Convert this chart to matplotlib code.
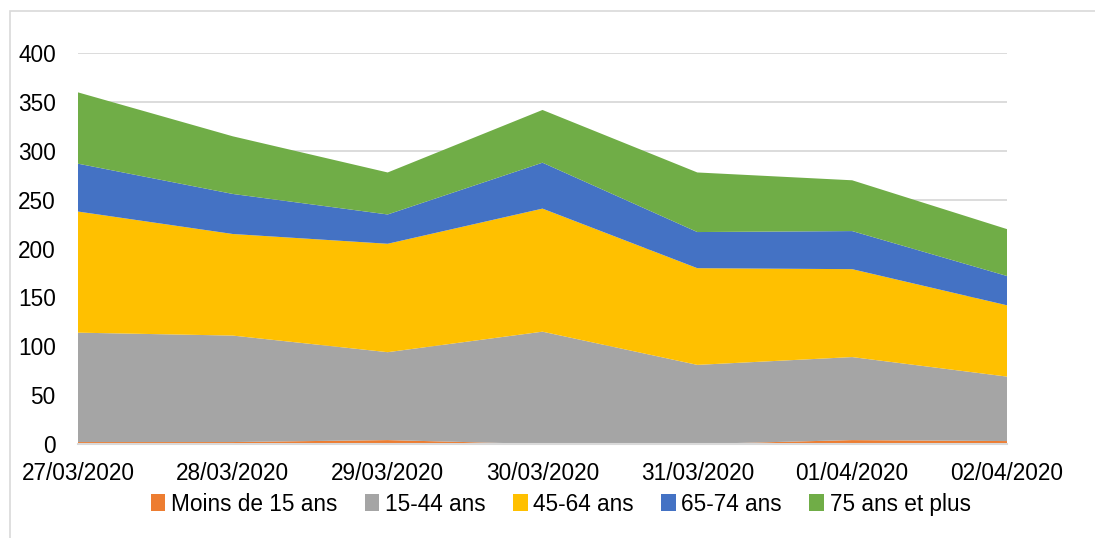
import matplotlib.pyplot as plt
from matplotlib.patches import Patch, Rectangle
from matplotlib import font_manager

# data (stacked area, daily counts)
dates = ['27/03/2020', '28/03/2020', '29/03/2020', '30/03/2020',
         '31/03/2020', '01/04/2020', '02/04/2020']
labels = ['Moins de 15 ans', '15-44 ans', '45-64 ans', '65-74 ans', '75 ans et plus']
moins_15 = [2, 2, 4, 0, 0, 4, 3]
age_15_44 = [112, 109, 90, 115, 81, 85, 66]
age_45_64 = [124, 104, 111, 126, 99, 90, 73]
age_65_74 = [49, 41, 30, 47, 37, 39, 30]
age_75_plus = [73, 59, 43, 54, 61, 52, 48]
colors = ['#ED7D31', '#A5A5A5', '#FFC000', '#4472C4', '#70AD47']

names = {f.name for f in font_manager.fontManager.ttflist}
if 'Liberation Sans Narrow' in names:
    plt.rcParams['font.family'] = ['Liberation Sans Narrow', 'DejaVu Sans']
    fs = 18.5
else:
    plt.rcParams['font.family'] = ['Liberation Sans', 'DejaVu Sans']
    fs = 16.3

fig = plt.figure(figsize=(10.95, 5.38), dpi=100)
ax = fig.add_axes([78 / 1095, 1 - 444 / 538, (1007 - 78) / 1095, (444 - 53.3) / 538])

# light frame around the chart
fig.patches.append(Rectangle((10 / 1095, -0.1), 1.2, 1 - 10.5 / 538 + 0.1,
                             transform=fig.transFigure, fill=False,
                             edgecolor='#d9d9d9', linewidth=1.2))

x = range(len(dates))
ax.stackplot(x, moins_15, age_15_44, age_45_64, age_65_74, age_75_plus,
             colors=colors, linewidth=0, zorder=2)

ax.set_xlim(0, len(dates) - 1)
ax.set_ylim(0, 400)
ax.set_yticks(range(0, 401, 50))
ax.set_xticks(list(x))
ax.set_xticklabels(dates)
ax.yaxis.grid(True, color='#d9d9d9', linewidth=1.3, zorder=0)
ax.set_axisbelow(True)
for s in ['top', 'right', 'left']:
    ax.spines[s].set_visible(False)
ax.spines['bottom'].set_color('#d9d9d9')
ax.spines['bottom'].set_linewidth(1.5)
ax.tick_params(axis='both', length=0, labelsize=fs, colors='black')
ax.tick_params(axis='y', pad=16)
ax.tick_params(axis='x', pad=13)

handles = [Patch(facecolor=c, edgecolor='none') for c in colors]
fig.legend(handles, labels, loc='center', bbox_to_anchor=(0.512, 0.063), ncol=5,
           frameon=False, fontsize=fs, handlelength=0.65, handleheight=0.75,
           handletextpad=0.25, columnspacing=1.2)

fig.savefig('out.png', dpi=100)
